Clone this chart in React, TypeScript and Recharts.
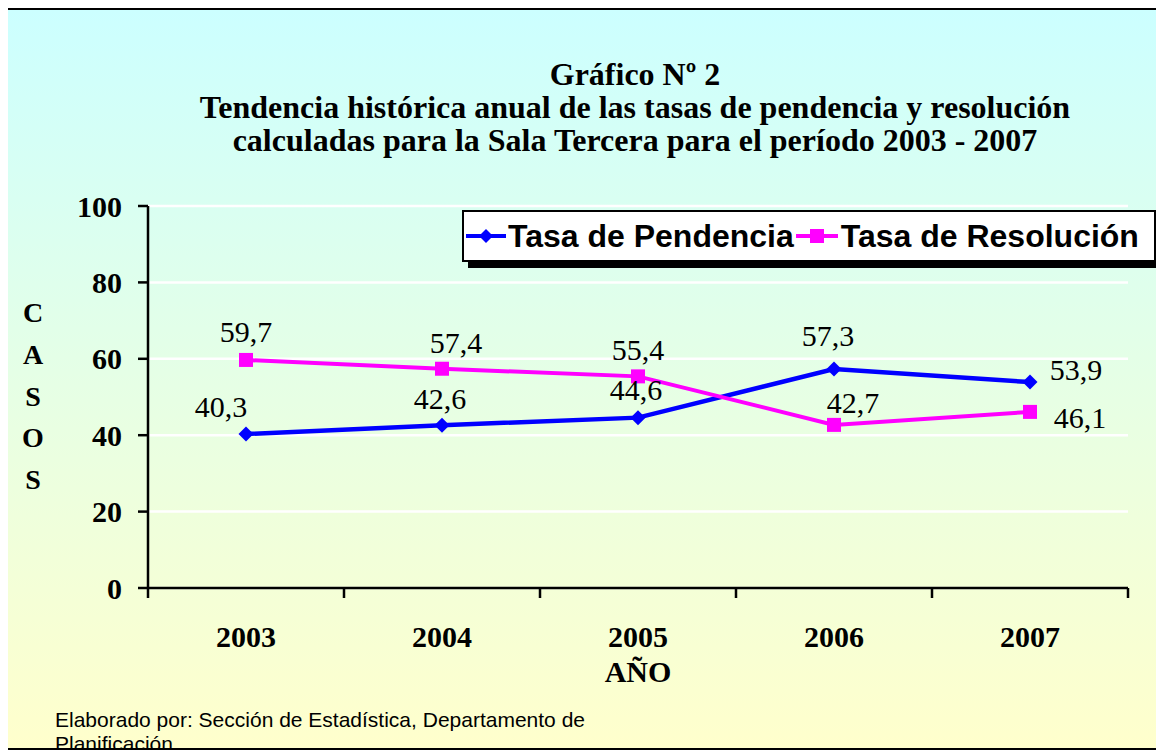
import React from 'react';
import { LineChart, Line, XAxis, YAxis, CartesianGrid, Legend, LabelList } from 'recharts';

const years = ['2003', '2004', '2005', '2006', '2007'];
const pendencia = [40.3, 42.6, 44.6, 57.3, 53.9];
const resolucion = [59.7, 57.4, 55.4, 42.7, 46.1];
const yTicks = [0, 20, 40, 60, 80, 100];
const titleLines = [
  'Gráfico Nº 2',
  'Tendencia histórica anual de las tasas de pendencia y resolución',
  'calculadas para la Sala Tercera para el período 2003 - 2007',
];
const seriesNames = ['Tasa de Pendencia', 'Tasa de Resolución'];
const yLabelLetters = ['C', 'A', 'S', 'O', 'S'];
const xLabel = 'AÑO';
const footerLines = ['Elaborado por: Sección de Estadística, Departamento de', 'Planificación'];

const BLUE = '#0000FF';
const MAGENTA = '#FF00FF';
const SERIF = '"Liberation Serif", "Times New Roman", serif';
const SANS = '"Liberation Sans", Arial, sans-serif';

const data = years.map((year, i) => ({
  year,
  pos: i + 0.5,
  pendencia: pendencia[i],
  resolucion: resolucion[i],
}));
const xTicks = Array.from({ length: years.length * 2 + 1 }, (_, i) => i / 2);

// label offsets relative to each point (styling)
const pendOffsets = [[-25, -27], [-2, -26], [-2, -28], [-6, -33], [46, -12]];
const resOffsets = [[0, -28], [14, -26], [0, -26], [19, -22], [50, 6]];

const fmt = (v: number) => v.toFixed(1).replace('.', ',');

const makeLabel = (offsets: number[][]) => (props: any) => {
  const { x, y, value, index } = props;
  const [dx, dy] = offsets[index] || [0, -20];
  return (
    <text
      x={x + dx}
      y={y + dy + 10}
      textAnchor="middle"
      fontFamily={SERIF}
      fontSize={30}
      fill="#000"
    >
      {fmt(value)}
    </text>
  );
};

const XTick = (props: any) => {
  const { x, y, payload } = props;
  const v = payload.value;
  if (Number.isInteger(v)) {
    return <line x1={x} x2={x} y1={y} y2={y + 10} stroke="#000" strokeWidth={2.5} />;
  }
  const idx = Math.floor(v);
  return (
    <text x={x} y={y + 59} textAnchor="middle" fontFamily={SERIF} fontWeight="bold" fontSize={30} fill="#000">
      {years[idx]}
    </text>
  );
};

const Diamond = (props: any) => {
  const { cx, cy } = props;
  if (cx == null || cy == null) return null;
  const r = 7.5;
  return <polygon points={`${cx},${cy - r} ${cx + r},${cy} ${cx},${cy + r} ${cx - r},${cy}`} fill={BLUE} />;
};

const Square = (props: any) => {
  const { cx, cy } = props;
  if (cx == null || cy == null) return null;
  const s = 14;
  return <rect x={cx - s / 2} y={cy - s / 2} width={s} height={s} fill={MAGENTA} />;
};

const LegendContent = () => (
  <div
    style={{
      background: '#fff',
      border: '2px solid #000',
      boxShadow: '6px 6px 0 #000',
      height: 52,
      width: 694,
      display: 'flex',
      alignItems: 'center',
      fontFamily: SANS,
      fontWeight: 'bold',
      fontSize: 32,
      color: '#000',
      boxSizing: 'border-box',
      paddingLeft: 1,
      whiteSpace: 'nowrap',
    }}
  >
    <svg width={42} height={20} style={{ marginRight: 1, flex: 'none' }}>
      <line x1={1} x2={41} y1={10} y2={10} stroke={BLUE} strokeWidth={4} />
      <polygon points="21,3 28,10 21,17 14,10" fill={BLUE} />
    </svg>
    <span>{seriesNames[0]}</span>
    <svg width={44} height={20} style={{ marginLeft: 1, marginRight: 2, flex: 'none' }}>
      <line x1={1} x2={43} y1={10} y2={10} stroke={MAGENTA} strokeWidth={4} />
      <rect x={15} y={3} width={14} height={14} fill={MAGENTA} />
    </svg>
    <span>{seriesNames[1]}</span>
  </div>
);

export default function App() {
  return (
    <div
      style={{
        position: 'relative',
        marginLeft: -3,
        width: 1157,
        height: 738,
        borderLeft: '2px solid #000',
        borderTop: '2px solid #000',
        borderBottom: '2px solid #000',
        background: 'linear-gradient(to bottom, #CCFFFF 0%, #FFFFCC 100%)',
        overflow: 'hidden',
      }}
    >
      <div
        style={{
          position: 'absolute',
          left: 78,
          width: 1100,
          top: 48,
          textAlign: 'center',
          fontFamily: SERIF,
          fontWeight: 'bold',
          fontSize: 32,
          lineHeight: '33px',
          color: '#000',
          whiteSpace: 'nowrap',
        }}
      >
        {titleLines.map((t, i) => (
          <div key={i}>{t}</div>
        ))}
      </div>
      <LineChart
        width={1157}
        height={738}
        data={data}
        margin={{ top: 196, right: 36, left: 61, bottom: 100 }}
      >
        <CartesianGrid vertical={false} stroke="#FFFFFF" strokeWidth={2.5} />
        <XAxis
          type="number"
          dataKey="pos"
          domain={[0, 5]}
          ticks={xTicks}
          interval={0}
          tickLine={false}
          tickSize={0}
          tickMargin={0}
          tick={<XTick />}
          axisLine={{ stroke: '#000', strokeWidth: 2.5 }}
          height={60}
          allowDataOverflow
        />
        <YAxis
          domain={[0, 100]}
          ticks={yTicks}
          interval={0}
          width={80}
          tickSize={10}
          tickMargin={16}
          axisLine={{ stroke: '#000', strokeWidth: 2.5 }}
          tickLine={{ stroke: '#000', strokeWidth: 2.5 }}
          tick={{ fontFamily: SERIF, fontWeight: 'bold', fontSize: 30, fill: '#000' }}
        />
        <Legend
          layout="horizontal"
          verticalAlign="middle"
          align="center"
          content={<LegendContent />}
          wrapperStyle={{ top: 200, left: 455, width: 702, height: 60 }}
        />
        <Line
          type="linear"
          dataKey="pendencia"
          name={seriesNames[0]}
          stroke={BLUE}
          strokeWidth={4.5}
          dot={<Diamond />}
          activeDot={false}
          isAnimationActive={false}
        >
          <LabelList dataKey="pendencia" content={makeLabel(pendOffsets)} />
        </Line>
        <Line
          type="linear"
          dataKey="resolucion"
          name={seriesNames[1]}
          stroke={MAGENTA}
          strokeWidth={4}
          dot={<Square />}
          activeDot={false}
          isAnimationActive={false}
        >
          <LabelList dataKey="resolucion" content={makeLabel(resOffsets)} />
        </Line>
      </LineChart>
      <div
        style={{
          position: 'absolute',
          left: 6,
          width: 40,
          top: 282,
          textAlign: 'center',
          fontFamily: SERIF,
          fontWeight: 'bold',
          fontSize: 28,
          lineHeight: '41.75px',
          color: '#000',
        }}
      >
        {yLabelLetters.map((l, i) => (
          <div key={i}>{l}</div>
        ))}
      </div>
      <div
        style={{
          position: 'absolute',
          left: 531,
          width: 200,
          top: 645,
          textAlign: 'center',
          fontFamily: SERIF,
          fontWeight: 'bold',
          fontSize: 30,
          lineHeight: '34px',
          color: '#000',
        }}
      >
        {xLabel}
      </div>
      <div
        style={{
          position: 'absolute',
          left: 48,
          top: 698,
          fontFamily: SANS,
          fontSize: 21,
          lineHeight: '24px',
          color: '#000',
          whiteSpace: 'nowrap',
        }}
      >
        {footerLines.map((l, i) => (
          <div key={i}>{l}</div>
        ))}
      </div>
    </div>
  );
}
